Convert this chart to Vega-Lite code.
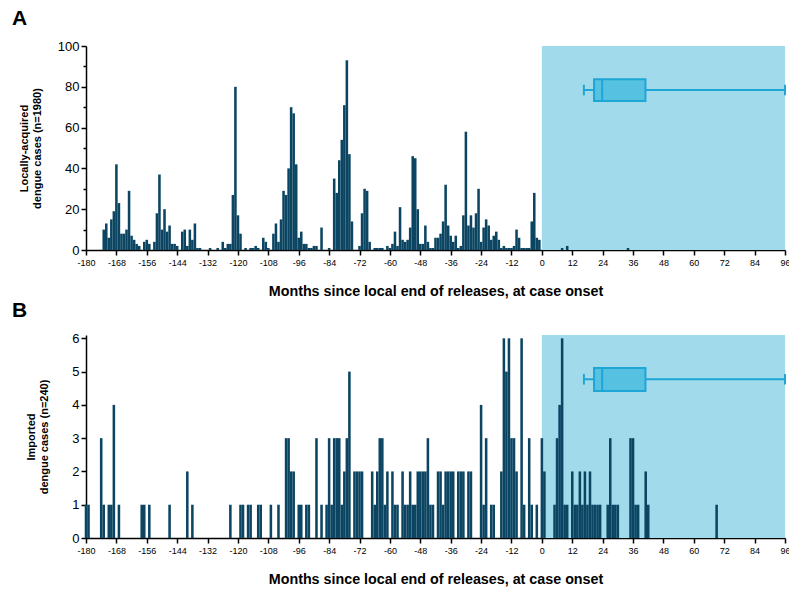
{
  "$schema": "https://vega.github.io/schema/vega-lite/v6.json",
  "background": "white",
  "padding": {"left": 12, "top": 8, "right": 0, "bottom": 0},
  "spacing": 1,
  "config": {
    "font": "Liberation Sans",
    "view": {"stroke": null},
    "axis": {
      "domainColor": "#000000", "domainWidth": 1.5, "tickColor": "#000000", "tickWidth": 1.5,
      "grid": false, "labelColor": "#000000", "titleColor": "#000000",
      "labelFont": "Liberation Sans", "titleFont": "Liberation Sans",
      "labelOverlap": false
    },
    "axisX": {"labelOverlap": false, "labelFlush": false, "tickCount": 40},
    "axisY": {"labelOverlap": false, "tickCount": 20}
  },
  "datasets": {
    "local": [
      {"month": -173, "cases": 10}, {"month": -172, "cases": 13}, {"month": -171, "cases": 6}, {"month": -170, "cases": 15},
      {"month": -169, "cases": 19}, {"month": -168, "cases": 42}, {"month": -167, "cases": 23}, {"month": -166, "cases": 8},
      {"month": -165, "cases": 8}, {"month": -164, "cases": 10}, {"month": -163, "cases": 29}, {"month": -162, "cases": 7},
      {"month": -161, "cases": 5}, {"month": -160, "cases": 3}, {"month": -159, "cases": 2}, {"month": -157, "cases": 4},
      {"month": -156, "cases": 5}, {"month": -155, "cases": 3}, {"month": -153, "cases": 4}, {"month": -152, "cases": 18},
      {"month": -151, "cases": 37}, {"month": -150, "cases": 10}, {"month": -149, "cases": 20}, {"month": -148, "cases": 9},
      {"month": -147, "cases": 12}, {"month": -146, "cases": 3}, {"month": -145, "cases": 3}, {"month": -144, "cases": 2},
      {"month": -142, "cases": 9}, {"month": -141, "cases": 10}, {"month": -140, "cases": 2}, {"month": -139, "cases": 10},
      {"month": -138, "cases": 5}, {"month": -137, "cases": 13}, {"month": -136, "cases": 1}, {"month": -135, "cases": 1},
      {"month": -131, "cases": 1}, {"month": -128, "cases": 1}, {"month": -126, "cases": 4}, {"month": -125, "cases": 1},
      {"month": -124, "cases": 3}, {"month": -123, "cases": 3}, {"month": -122, "cases": 27}, {"month": -121, "cases": 80},
      {"month": -120, "cases": 17}, {"month": -119, "cases": 8}, {"month": -117, "cases": 1}, {"month": -115, "cases": 1},
      {"month": -114, "cases": 1}, {"month": -113, "cases": 2}, {"month": -112, "cases": 1}, {"month": -110, "cases": 6},
      {"month": -109, "cases": 4}, {"month": -108, "cases": 1}, {"month": -106, "cases": 8}, {"month": -105, "cases": 13},
      {"month": -104, "cases": 4}, {"month": -103, "cases": 15}, {"month": -102, "cases": 29}, {"month": -101, "cases": 27},
      {"month": -100, "cases": 40}, {"month": -99, "cases": 70}, {"month": -98, "cases": 67}, {"month": -97, "cases": 42},
      {"month": -96, "cases": 6}, {"month": -95, "cases": 9}, {"month": -94, "cases": 3}, {"month": -93, "cases": 3},
      {"month": -92, "cases": 1}, {"month": -91, "cases": 1}, {"month": -90, "cases": 2}, {"month": -89, "cases": 2},
      {"month": -87, "cases": 11}, {"month": -84, "cases": 1}, {"month": -82, "cases": 35}, {"month": -81, "cases": 28},
      {"month": -80, "cases": 44}, {"month": -79, "cases": 54}, {"month": -78, "cases": 71}, {"month": -77, "cases": 93},
      {"month": -76, "cases": 47}, {"month": -75, "cases": 14}, {"month": -72, "cases": 2}, {"month": -71, "cases": 18},
      {"month": -70, "cases": 30}, {"month": -69, "cases": 29}, {"month": -68, "cases": 4}, {"month": -66, "cases": 1},
      {"month": -65, "cases": 1}, {"month": -64, "cases": 1}, {"month": -63, "cases": 1}, {"month": -61, "cases": 2},
      {"month": -60, "cases": 1}, {"month": -59, "cases": 3}, {"month": -58, "cases": 9}, {"month": -57, "cases": 2},
      {"month": -56, "cases": 21}, {"month": -55, "cases": 5}, {"month": -54, "cases": 4}, {"month": -53, "cases": 5},
      {"month": -52, "cases": 11}, {"month": -51, "cases": 46}, {"month": -50, "cases": 45}, {"month": -49, "cases": 20},
      {"month": -48, "cases": 3}, {"month": -47, "cases": 3}, {"month": -46, "cases": 12}, {"month": -45, "cases": 4},
      {"month": -44, "cases": 1}, {"month": -43, "cases": 1}, {"month": -42, "cases": 6}, {"month": -41, "cases": 6},
      {"month": -40, "cases": 8}, {"month": -39, "cases": 14}, {"month": -38, "cases": 32}, {"month": -37, "cases": 12},
      {"month": -36, "cases": 7}, {"month": -35, "cases": 4}, {"month": -34, "cases": 7}, {"month": -33, "cases": 1},
      {"month": -32, "cases": 2}, {"month": -31, "cases": 17}, {"month": -30, "cases": 58}, {"month": -29, "cases": 12},
      {"month": -28, "cases": 17}, {"month": -27, "cases": 11}, {"month": -26, "cases": 18}, {"month": -25, "cases": 30},
      {"month": -24, "cases": 4}, {"month": -23, "cases": 11}, {"month": -22, "cases": 15}, {"month": -21, "cases": 12},
      {"month": -20, "cases": 5}, {"month": -19, "cases": 7}, {"month": -18, "cases": 9}, {"month": -17, "cases": 5},
      {"month": -16, "cases": 1}, {"month": -15, "cases": 2}, {"month": -14, "cases": 1}, {"month": -13, "cases": 1},
      {"month": -12, "cases": 1}, {"month": -11, "cases": 2}, {"month": -10, "cases": 10}, {"month": -9, "cases": 6},
      {"month": -8, "cases": 1}, {"month": -7, "cases": 1}, {"month": -6, "cases": 1}, {"month": -5, "cases": 1},
      {"month": -4, "cases": 14}, {"month": -3, "cases": 28}, {"month": -2, "cases": 6}, {"month": -1, "cases": 5},
      {"month": 8, "cases": 1}, {"month": 10, "cases": 2}, {"month": 34, "cases": 1}
    ],
    "imported": [
      {"month": -180, "cases": 1}, {"month": -179, "cases": 1}, {"month": -174, "cases": 3}, {"month": -173, "cases": 1},
      {"month": -171, "cases": 1}, {"month": -170, "cases": 1}, {"month": -169, "cases": 4}, {"month": -167, "cases": 1},
      {"month": -158, "cases": 1}, {"month": -157, "cases": 1}, {"month": -155, "cases": 1}, {"month": -147, "cases": 1},
      {"month": -140, "cases": 2}, {"month": -138, "cases": 1}, {"month": -123, "cases": 1}, {"month": -119, "cases": 1},
      {"month": -118, "cases": 1}, {"month": -116, "cases": 1}, {"month": -115, "cases": 1}, {"month": -112, "cases": 1},
      {"month": -111, "cases": 1}, {"month": -107, "cases": 1}, {"month": -104, "cases": 1}, {"month": -101, "cases": 3},
      {"month": -100, "cases": 3}, {"month": -99, "cases": 2}, {"month": -98, "cases": 2}, {"month": -96, "cases": 1},
      {"month": -95, "cases": 1}, {"month": -93, "cases": 1}, {"month": -92, "cases": 1}, {"month": -89, "cases": 3},
      {"month": -87, "cases": 1}, {"month": -85, "cases": 1}, {"month": -84, "cases": 3}, {"month": -83, "cases": 1},
      {"month": -82, "cases": 3}, {"month": -81, "cases": 3}, {"month": -80, "cases": 3}, {"month": -79, "cases": 1},
      {"month": -78, "cases": 2}, {"month": -77, "cases": 3}, {"month": -76, "cases": 5}, {"month": -74, "cases": 2},
      {"month": -73, "cases": 2}, {"month": -72, "cases": 2}, {"month": -71, "cases": 2}, {"month": -67, "cases": 2},
      {"month": -66, "cases": 1}, {"month": -65, "cases": 2}, {"month": -64, "cases": 3}, {"month": -63, "cases": 3},
      {"month": -62, "cases": 1}, {"month": -61, "cases": 2}, {"month": -59, "cases": 2}, {"month": -58, "cases": 1},
      {"month": -57, "cases": 1}, {"month": -55, "cases": 2}, {"month": -54, "cases": 1}, {"month": -53, "cases": 1},
      {"month": -52, "cases": 2}, {"month": -51, "cases": 1}, {"month": -50, "cases": 1}, {"month": -49, "cases": 2},
      {"month": -48, "cases": 2}, {"month": -47, "cases": 2}, {"month": -46, "cases": 2}, {"month": -45, "cases": 3},
      {"month": -44, "cases": 1}, {"month": -43, "cases": 1}, {"month": -41, "cases": 2}, {"month": -40, "cases": 2},
      {"month": -39, "cases": 1}, {"month": -38, "cases": 2}, {"month": -37, "cases": 2}, {"month": -36, "cases": 2},
      {"month": -35, "cases": 2}, {"month": -33, "cases": 2}, {"month": -32, "cases": 2}, {"month": -31, "cases": 2},
      {"month": -29, "cases": 2}, {"month": -28, "cases": 2}, {"month": -24, "cases": 4}, {"month": -23, "cases": 1},
      {"month": -22, "cases": 3}, {"month": -20, "cases": 1}, {"month": -19, "cases": 1}, {"month": -16, "cases": 2},
      {"month": -15, "cases": 6}, {"month": -14, "cases": 5}, {"month": -13, "cases": 6}, {"month": -12, "cases": 3},
      {"month": -11, "cases": 3}, {"month": -10, "cases": 2}, {"month": -8, "cases": 6}, {"month": -7, "cases": 1},
      {"month": -5, "cases": 3}, {"month": -4, "cases": 1}, {"month": -2, "cases": 1}, {"month": 0, "cases": 3},
      {"month": 1, "cases": 2}, {"month": 5, "cases": 1}, {"month": 6, "cases": 3}, {"month": 7, "cases": 4},
      {"month": 8, "cases": 6}, {"month": 9, "cases": 1}, {"month": 10, "cases": 1}, {"month": 12, "cases": 2},
      {"month": 13, "cases": 1}, {"month": 14, "cases": 1}, {"month": 15, "cases": 2}, {"month": 16, "cases": 1},
      {"month": 17, "cases": 2}, {"month": 18, "cases": 1}, {"month": 19, "cases": 2}, {"month": 20, "cases": 1},
      {"month": 21, "cases": 1}, {"month": 22, "cases": 1}, {"month": 23, "cases": 1}, {"month": 26, "cases": 1},
      {"month": 27, "cases": 3}, {"month": 28, "cases": 1}, {"month": 29, "cases": 1}, {"month": 30, "cases": 1},
      {"month": 35, "cases": 3}, {"month": 36, "cases": 3}, {"month": 37, "cases": 1}, {"month": 38, "cases": 1},
      {"month": 41, "cases": 2}, {"month": 42, "cases": 1}, {"month": 69, "cases": 1}
    ],
    "period": [{"start": 0, "end": 96}],
    "box": [{"min": 16.6, "q1": 20.6, "median": 23.8, "q3": 40.9, "max": 96}]
  },
  "vconcat": [
    {
      "width": 699,
      "height": 204,
      "title": {"text": "A", "anchor": "start", "frame": "group", "dx": -74, "offset": 11, "fontSize": 21, "fontWeight": "bold", "font": "Liberation Sans", "color": "#000000"},
      "layer": [
        {
          "data": {"name": "period"},
          "mark": {"type": "rect", "color": "#a1dbeb"},
          "encoding": {
            "x": {"field": "start", "type": "quantitative",
              "scale": {"domain": [-180, 96], "nice": false, "zero": false, "padding": 0},
              "axis": {"values": [-180,-168,-156,-144,-132,-120,-108,-96,-84,-72,-60,-48,-36,-24,-12,0,12,24,36,48,60,72,84,96],
                "tickCount": 40, "labelExpr": "'' + datum.value",
                "title": "Months since local end of releases, at case onset", "labelFontSize": 9, "titleFontSize": 14.3,
                "titleFontWeight": "bold", "labelPadding": 3, "titlePadding": 17, "tickSize": 5, "labelFlush": false, "labelOverlap": false}},
            "x2": {"field": "end"}
          }
        },
        {
          "data": {"name": "local"},
          "mark": {"type": "bar", "color": "#0b4562", "width": 2.55},
          "encoding": {
            "x": {"field": "month", "type": "quantitative"},
            "y": {"field": "cases", "type": "quantitative",
              "scale": {"domain": [0, 100], "nice": false},
              "axis": {"values": [0,10,20,30,40,50,60,70,80,90,100], "tickCount": 20,
                "labelExpr": "datum.value % 20 === 0 ? datum.label : ''",
                "tickSize": {"condition": {"test": "datum.value % 20 === 0", "value": 5}, "value": 3},
                "title": ["Locally-acquired", "dengue cases (n=1980)"], "labelFontSize": 13, "titleFontSize": 11,
                "titleFontWeight": "bold", "labelPadding": 2, "titlePadding": 15, "labelOverlap": false}}
          }
        },
        {
          "data": {"name": "box"},
          "mark": {"type": "rule", "color": "#1ea6d7", "strokeWidth": 2},
          "encoding": {"x": {"field": "min", "type": "quantitative"}, "x2": {"field": "max"}, "y": {"datum": 78.4, "type": "quantitative"}}
        },
        {
          "data": {"name": "box"},
          "mark": {"type": "rule", "color": "#1ea6d7", "strokeWidth": 2},
          "encoding": {"x": {"field": "min", "type": "quantitative"}, "y": {"datum": 75.8, "type": "quantitative"}, "y2": {"datum": 81}}
        },
        {
          "data": {"name": "box"},
          "mark": {"type": "rule", "color": "#1ea6d7", "strokeWidth": 2},
          "encoding": {"x": {"field": "max", "type": "quantitative"}, "y": {"datum": 75.8, "type": "quantitative"}, "y2": {"datum": 81}}
        },
        {
          "data": {"name": "box"},
          "mark": {"type": "rect", "fill": "#56c1e1", "stroke": "#1ea6d7", "strokeWidth": 2},
          "encoding": {"x": {"field": "q1", "type": "quantitative"}, "x2": {"field": "q3"}, "y": {"datum": 73, "type": "quantitative"}, "y2": {"datum": 83.7}}
        },
        {
          "data": {"name": "box"},
          "mark": {"type": "rule", "color": "#1ea6d7", "strokeWidth": 2},
          "encoding": {"x": {"field": "median", "type": "quantitative"}, "y": {"datum": 73, "type": "quantitative"}, "y2": {"datum": 83.7}}
        }
      ]
    },
    {
      "width": 699,
      "height": 203,
      "title": {"text": "B", "anchor": "start", "frame": "group", "dx": -74, "offset": 11, "fontSize": 21, "fontWeight": "bold", "font": "Liberation Sans", "color": "#000000"},
      "layer": [
        {
          "data": {"name": "period"},
          "mark": {"type": "rect", "color": "#a1dbeb"},
          "encoding": {
            "x": {"field": "start", "type": "quantitative",
              "scale": {"domain": [-180, 96], "nice": false, "zero": false, "padding": 0},
              "axis": {"values": [-180,-168,-156,-144,-132,-120,-108,-96,-84,-72,-60,-48,-36,-24,-12,0,12,24,36,48,60,72,84,96],
                "tickCount": 40, "labelExpr": "'' + datum.value",
                "title": "Months since local end of releases, at case onset", "labelFontSize": 9, "titleFontSize": 14.3,
                "titleFontWeight": "bold", "labelPadding": 3, "titlePadding": 17, "tickSize": 5, "labelFlush": false, "labelOverlap": false}},
            "x2": {"field": "end"}
          }
        },
        {
          "data": {"name": "imported"},
          "mark": {"type": "bar", "color": "#0b4562", "width": 2.55},
          "encoding": {
            "x": {"field": "month", "type": "quantitative"},
            "y": {"field": "cases", "type": "quantitative",
              "scale": {"domain": [0, 6.1], "nice": false},
              "axis": {"values": [0,1,2,3,4,5,6], "tickCount": 20, "labelExpr": "'' + datum.value",
                "title": ["Imported", "dengue cases (n=240)"], "labelFontSize": 13, "titleFontSize": 11,
                "titleFontWeight": "bold", "labelPadding": 2, "titlePadding": 22, "tickSize": 5, "labelOverlap": false}}
          }
        },
        {
          "data": {"name": "box"},
          "mark": {"type": "rule", "color": "#1ea6d7", "strokeWidth": 2},
          "encoding": {"x": {"field": "min", "type": "quantitative"}, "x2": {"field": "max"}, "y": {"datum": 4.77, "type": "quantitative"}}
        },
        {
          "data": {"name": "box"},
          "mark": {"type": "rule", "color": "#1ea6d7", "strokeWidth": 2},
          "encoding": {"x": {"field": "min", "type": "quantitative"}, "y": {"datum": 4.61, "type": "quantitative"}, "y2": {"datum": 4.93}}
        },
        {
          "data": {"name": "box"},
          "mark": {"type": "rule", "color": "#1ea6d7", "strokeWidth": 2},
          "encoding": {"x": {"field": "max", "type": "quantitative"}, "y": {"datum": 4.61, "type": "quantitative"}, "y2": {"datum": 4.93}}
        },
        {
          "data": {"name": "box"},
          "mark": {"type": "rect", "fill": "#56c1e1", "stroke": "#1ea6d7", "strokeWidth": 2},
          "encoding": {"x": {"field": "q1", "type": "quantitative"}, "x2": {"field": "q3"}, "y": {"datum": 4.42, "type": "quantitative"}, "y2": {"datum": 5.11}}
        },
        {
          "data": {"name": "box"},
          "mark": {"type": "rule", "color": "#1ea6d7", "strokeWidth": 2},
          "encoding": {"x": {"field": "median", "type": "quantitative"}, "y": {"datum": 4.42, "type": "quantitative"}, "y2": {"datum": 5.11}}
        }
      ]
    }
  ]
}
